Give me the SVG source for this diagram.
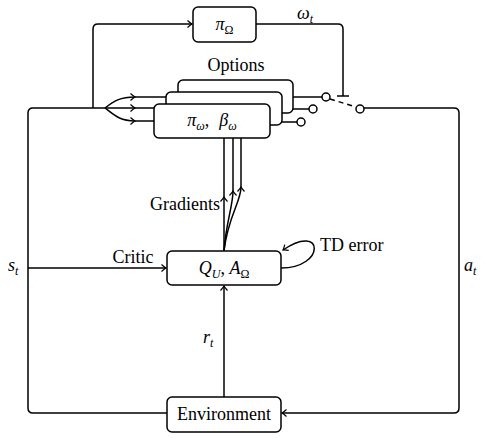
<svg xmlns="http://www.w3.org/2000/svg" width="482" height="438" viewBox="0 0 482 438">
<style>
.c{fill:none;stroke:#000;stroke-width:1.5}
.b{fill:#fff;stroke:#000;stroke-width:1.5}
.t{font-family:"Liberation Serif","DejaVu Serif",serif;font-size:18px;fill:#000}
.m{font-family:"Liberation Serif","DejaVu Serif",serif;font-size:18px;font-style:italic;fill:#000}
.s{font-size:12px}
</style>
<defs>
<marker id="a" markerUnits="userSpaceOnUse" markerWidth="12" markerHeight="12" viewBox="-6 -6 12 12" refX="0" refY="0" orient="auto">
<path d="M-4.5,-3.5 Q-1.5,-0.8 0,0 Q-1.5,0.8 -4.5,3.5" fill="none" stroke="#000" stroke-width="1.2"/>
</marker>
</defs>
<g id="connectors">
<path class="c" d="M93,108 H105"/>
<path class="c" d="M93,108 V29 Q93,24 98,24 H192" marker-end="url(#a)"/>
<path class="c" d="M256,24 H338 Q343,24 343,29 V96"/>
<path class="c" d="M337,96 H349"/>
<path class="c" d="M105,108 C114,101 120,97 135,97" marker-end="url(#a)"/>
<path class="c" d="M135,97 H180"/>
<path class="c" d="M105,108 H135" marker-end="url(#a)"/>
<path class="c" d="M135,108 H170"/>
<path class="c" d="M105,108 C114,115 120,121 135,121" marker-end="url(#a)"/>
<path class="c" d="M135,121 H160"/>
<path class="c" d="M290,97 H322"/>
<path class="c" d="M279,109 H309"/>
<path class="c" d="M267,122 H297"/>
<path class="c" d="M330,99 L356,107" stroke-dasharray="5,4"/>
<path class="c" d="M364,108 H454 Q459,108 459,113 V408 Q459,413 454,413 H282" marker-end="url(#a)"/>
<path class="c" d="M93,108 H33 Q28,108 28,113 V408 Q28,413 33,413 H167"/>
<path class="c" d="M28,268 H166" marker-end="url(#a)"/>
<path class="c" d="M224,397 V286" marker-end="url(#a)"/>
<path class="c" d="M281,268 C326,268 324,222 283,250" marker-end="url(#a)"/>
<path class="c" d="M224,251 V197" marker-end="url(#a)"/>
<path class="c" d="M224,197 V136"/>
<path class="c" d="M224,251 C226,222 233,206 233,191" marker-end="url(#a)"/>
<path class="c" d="M233,191 V120"/>
<path class="c" d="M224,251 C228,216 241,202 241,187" marker-end="url(#a)"/>
<path class="c" d="M241,187 V110"/>
</g>
<g id="pi_omega">
<rect class="b" x="193" y="7" width="63" height="35" rx="5"/>
<text class="m" x="224.5" y="30" text-anchor="middle">π<tspan class="s" font-style="normal" dy="4">Ω</tspan></text>
</g>
<text class="m" x="297" y="19">ω<tspan class="s" dy="4">t</tspan></text>
<text class="t" x="236" y="71" text-anchor="middle">Options</text>
<g id="option3"><rect class="b" x="178" y="80" width="115" height="33" rx="5"/></g>
<g id="option2"><rect class="b" x="166" y="92" width="116" height="33" rx="5"/></g>
<g id="option1">
<rect class="b" x="154" y="104" width="116" height="34" rx="5"/>
<text class="m" x="212" y="126" text-anchor="middle">π<tspan class="s" dy="4">ω</tspan><tspan dy="-4" font-style="normal">,</tspan><tspan dx="10">β</tspan><tspan class="s" dy="4">ω</tspan></text>
</g>
<g id="switch">
<circle class="b" cx="326" cy="97" r="4"/>
<circle class="b" cx="313" cy="109" r="4"/>
<circle class="b" cx="301" cy="122" r="4"/>
<circle class="b" cx="360" cy="109" r="4"/>
</g>
<g id="critic">
<rect class="b" x="167" y="251" width="114" height="34" rx="5"/>
<text class="m" x="224" y="274" text-anchor="middle">Q<tspan class="s" dy="4">U</tspan><tspan dy="-4" font-style="normal">, </tspan>A<tspan class="s" font-style="normal" dy="4">Ω</tspan></text>
</g>
<g id="environment">
<rect class="b" x="167" y="397" width="114" height="35" rx="5"/>
<text class="t" x="224" y="420" text-anchor="middle">Environment</text>
</g>
<text class="t" x="220" y="210" text-anchor="end">Gradients</text>
<text class="t" x="320" y="251">TD error</text>
<text class="t" x="133" y="263" text-anchor="middle">Critic</text>
<text class="m" x="8" y="271">s<tspan class="s" dy="4">t</tspan></text>
<text class="m" x="464" y="271">a<tspan class="s" dy="4">t</tspan></text>
<text class="m" x="203" y="343">r<tspan class="s" dy="4">t</tspan></text>
</svg>
